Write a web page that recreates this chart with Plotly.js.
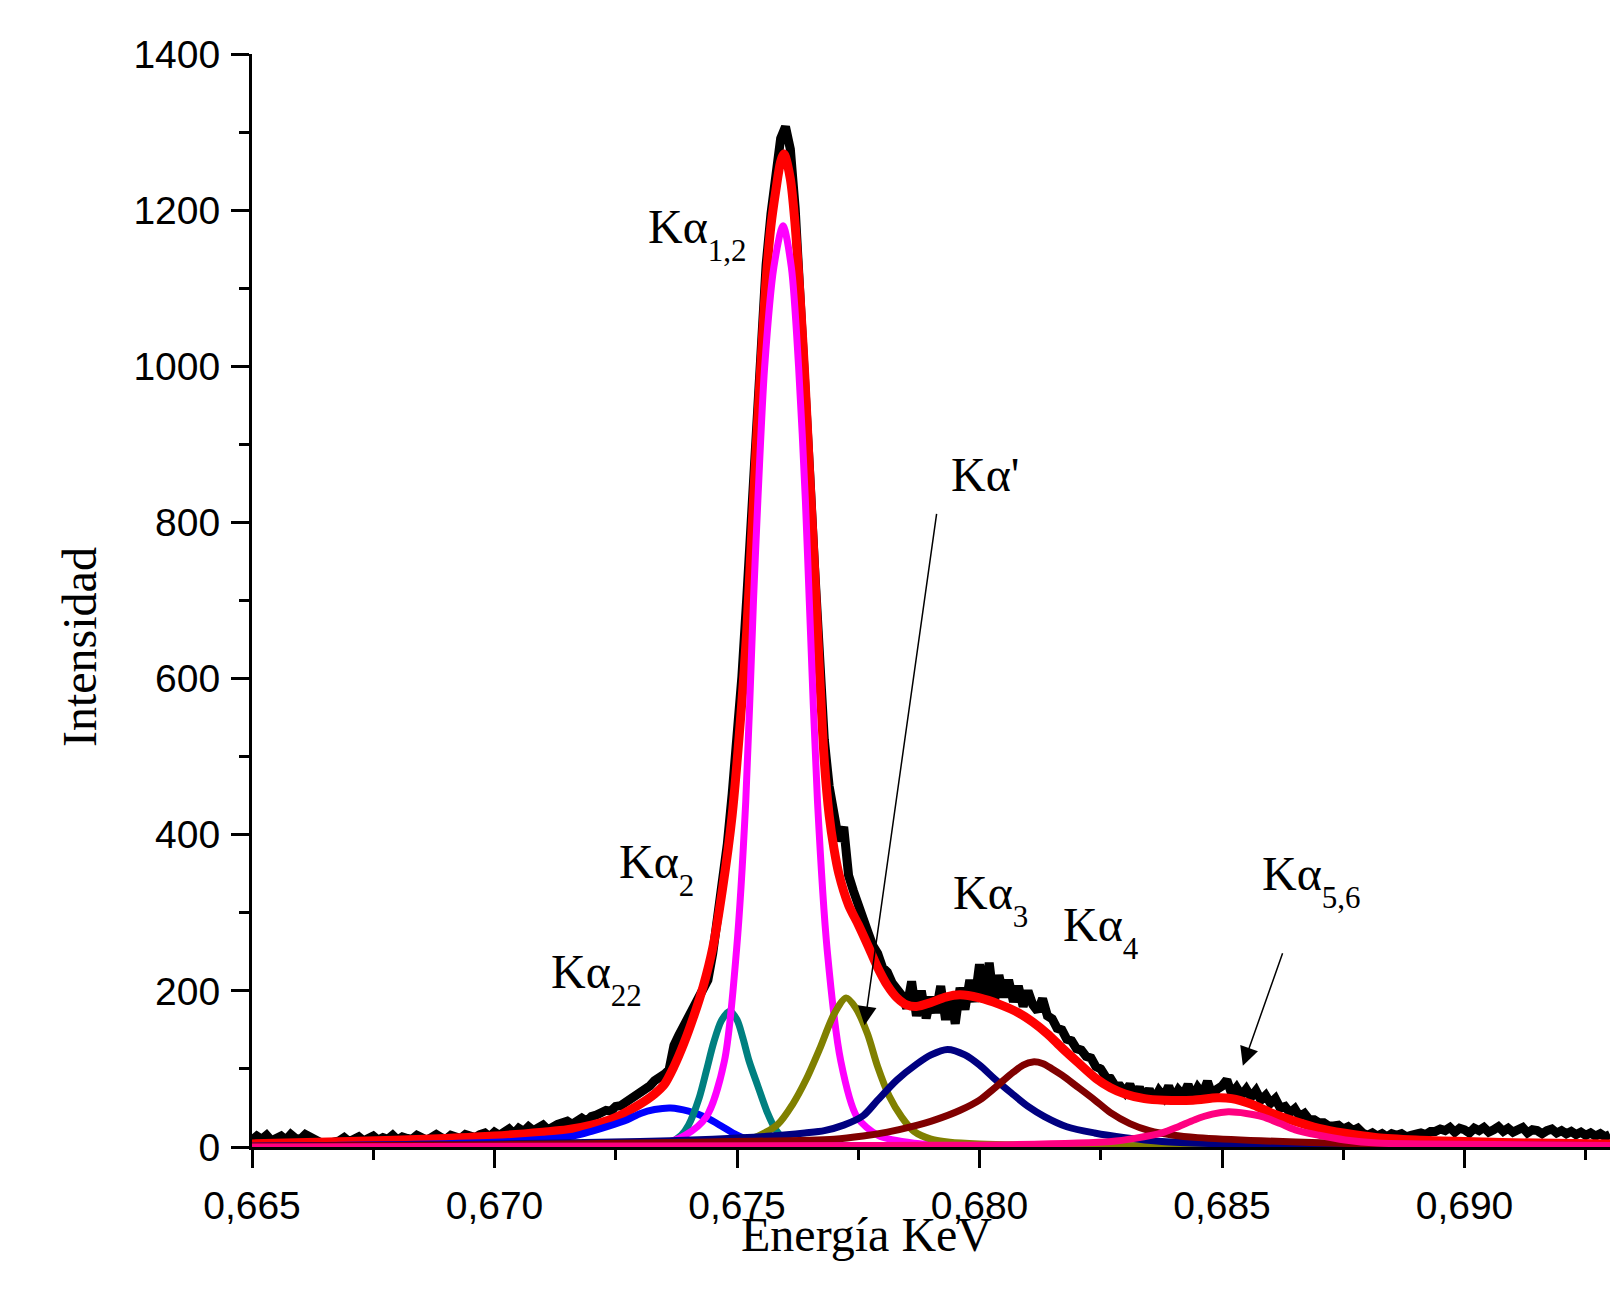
<!DOCTYPE html>
<html>
<head>
<meta charset="utf-8">
<script src="https://cdn.plot.ly/plotly-3.0.1.min.js"></script>
<style>
  html, body { margin: 0; padding: 0; background: #ffffff; }
  #chart { width: 1616px; height: 1294px; }
</style>
</head>
<body>
<div id="chart"></div>
<script>
// ---------- Experimental spectrum (black), sampled every 0.0001 keV from 0.6650 ----------
const dataStartKeV = 0.6650;
const dataStepKeV = 0.0001;
const measuredIntensity = [
  9,14,10,15,8,11,14,9,16,11,10,16,12,9,4,3,5,6,
  8,12,7,10,13,8,11,14,9,12,10,15,9,13,11,10,15,12,9,12,16,12,10,15,12,11,16,13,12,
  16,18,13,19,15,
  20,23,17,24,20,26,21,25,28,22,27,29,
  31,33,29,35,37,33,39,
  41,44,47,46,52,53,57,59,66,70,74,78,85,88,93,
  99,130,143,154,170,180,190,203,214,248,
  292,338,388,452,522,602,702,815,925,1030,1130,1195,1250,1292,1307,
  1278,1202,1102,992,862,742,628,522,462,424,392,410,348,328,308,292,275,258,248,230,224,210,203,194,
  178,212,168,200,165,192,172,206,163,196,158,204,176,214,186,234,190,236,184,220,192,214,186,206,180,200,
  182,174,190,168,164,152,150,138,136,126,124,116,114,103,100,90,88,78,78,
  70,80,66,76,63,74,60,72,64,78,62,73,66,80,64,76,68,84,66,74,78,86,68,76,66,74,64,72,60,66,
  56,62,50,52,44,49,39,43,35,35,31,31,27,27,28,23,26,21,24,
  18,15,18,14,17,13,17,15,17,13,15,18,18,16,20,20,23,
  21,25,19,24,22,18,24,21,25,19,22,26,20,24,19,22,25,18,22,21,17,21,23,18,21,17,20,16,19,15,18,14,17,13,16
];

// ---------- Total fit (red) ----------
const fitEnergy = [0.6650,0.6670,0.6690,0.6700,0.6710,0.6715,0.6720,0.6725,0.6730,0.6733,0.6735,0.6737,0.6739,0.6741,0.6743,0.6745,0.6747,0.6749,0.6751,0.6752,0.6753,0.6754,0.6755,0.6756,0.6757,0.6758,0.6759,0.67597,0.6761,0.6762,0.6763,0.6764,0.6765,0.6766,0.6767,0.6768,0.6769,0.6770,0.6771,0.6773,0.6775,0.6777,0.6779,0.6781,0.6783,0.6785,0.6787,0.6790,0.6793,0.6796,0.6800,0.6804,0.6808,0.6811,0.6814,0.6817,0.6820,0.6824,0.6827,0.6830,0.6834,0.6838,0.6844,0.6849,0.6852,0.6856,0.6860,0.6865,0.6870,0.6875,0.6882,0.6890,0.6900,0.6915,0.6930];
const fitIntensity = [4,7,11,14,19,22,28,38,55,68,80,103,132,166,205,255,330,425,570,660,780,900,1010,1110,1180,1225,1262,1272,1240,1180,1090,985,860,740,610,495,425,382,350,310,285,258,230,207,191,182,180,185,192,195,191,183,172,160,145,127,110,88,76,68,62,60,60,63,62,55,44,33,24,18,12,9,7,5,4];

// ---------- Fitted components ----------
const ka22Energy = [0.6650,0.6680,0.6700,0.6710,0.67163,0.6720,0.67232,0.67274,0.67301,0.67330,0.67363,0.6740,0.67439,0.67470,0.67494,0.6752,0.6757,0.6765,0.6800,0.6930];
const ka22Intensity = [1,3,6,10,14,20,26,35,43,48,50,46,37,26,17,10,4,2,1,0];

const ka2Energy = [0.6650,0.6730,0.6736,0.67385,0.6740,0.67422,0.67437,0.67452,0.67468,0.67485,0.67500,0.67512,0.67525,0.67543,0.67562,0.67580,0.67599,0.6763,0.6770,0.6930];
const ka2Intensity = [0,1,5,15,28,63,98,134,162,174,163,140,110,78,45,22,9,3,1,0];

const ka12Energy = [0.6650,0.6700,0.6720,0.6730,0.67349,0.67393,0.67437,0.67474,0.67499,0.67518,0.67534,0.67543,0.67557,0.67576,0.67595,0.67612,0.67627,0.67641,0.67649,0.67666,0.67686,0.67714,0.67747,0.67791,0.67865,0.6800,0.6830,0.6930];
const ka12Intensity = [0,1,2,3,5,15,39,110,252,442,700,828,999,1127,1180,1127,999,828,700,442,252,110,39,15,5,2,1,0];

const kaPrimeEnergy = [0.6650,0.6720,0.6745,0.67532,0.67584,0.67615,0.67643,0.67670,0.67700,0.67725,0.67745,0.67769,0.67790,0.67814,0.67840,0.67865,0.67900,0.67939,0.6800,0.6820,0.6930];
const kaPrimeIntensity = [0,2,3,11,29,55,87,125,170,191,178,145,103,65,38,20,10,6,4,2,0];

const ka3Energy = [0.6650,0.6700,0.6730,0.6745,0.6757,0.6764,0.6768,0.6772,0.6776,0.6779,0.6783,0.6787,0.6790,0.67934,0.6797,0.6800,0.6803,0.68066,0.6810,0.68134,0.6818,0.68237,0.6830,0.68376,0.6850,0.6870,0.6930];
const ka3Intensity = [1,4,7,10,14,18,21,28,40,60,86,106,118,125,118,105,88,69,52,39,26,18,12,7,4,2,1];

const ka4Energy = [0.6650,0.6700,0.6740,0.6770,0.6776,0.6781,0.6786,0.6791,0.6796,0.6800,0.6803,0.6807,0.6809,0.6811,0.6813,0.6815,0.6817,0.6820,0.68238,0.6827,0.6831,0.6835,0.6840,0.6845,0.6858,0.6880,0.6930];
const ka4Intensity = [1,3,6,10,14,19,26,35,47,60,75,96,105,109,107,100,92,78,60,44,30,21,15,12,8,4,2];

const ka56Energy = [0.6650,0.6780,0.6807,0.68272,0.68320,0.68376,0.68410,0.68444,0.68480,0.68513,0.68550,0.68583,0.68620,0.68651,0.68700,0.68754,0.6882,0.6891,0.6930];
const ka56Intensity = [0,2,3,7,11,18,26,35,42,45,43,39,30,22,15,9,5,4,2];

// ---------- Axis ticks ----------
const xTickValues = [0.665,0.670,0.675,0.680,0.685,0.690];
const xTickLabels = ["0,665","0,670","0,675","0,680","0,685","0,690"];
const yTickValues = [0,200,400,600,800,1000,1200,1400];
const yTickLabels = ["0","200","400","600","800","1000","1200","1400"];

// ---------- Labels (main text + subscript) ----------
const peakLabels = [
  {main: "Kα", sub: "1,2", x: 0.67312, y: 1169},
  {main: "Kα'", sub: "",   x: 0.67938, y: 862},
  {main: "Kα", sub: "2",   x: 0.67253, y: 356},
  {main: "Kα", sub: "22",  x: 0.67113, y: 215},
  {main: "Kα", sub: "3",   x: 0.67942, y: 317},
  {main: "Kα", sub: "4",   x: 0.68167, y: 276},
  {main: "Kα", sub: "5,6", x: 0.68579, y: 341}
];
const arrows = [
  {tipX: 0.67763, tipY: 156, tailX: 0.67912, tailY: 813},
  {tipX: 0.68543, tipY: 104, tailX: 0.68626, tailY: 250}
];

const measuredEnergy = measuredIntensity.map((_, i) => +(dataStartKeV + i * dataStepKeV).toFixed(4));

const serif = "'Times New Roman', 'Liberation Serif', 'DejaVu Serif', serif";
const sans = "Arial, 'Liberation Sans', Helvetica, sans-serif";

function comp(x, y, color) {
  return {x: x, y: y, type: 'scatter', mode: 'lines',
          line: {color: color, width: 7, shape: 'spline', smoothing: 0.8},
          hoverinfo: 'skip', showlegend: false};
}

const traces = [
  {x: measuredEnergy, y: measuredIntensity, type: 'scatter', mode: 'lines',
   line: {color: '#000000', width: 9}, showlegend: false, name: 'Datos'},
  {x: fitEnergy, y: fitIntensity, type: 'scatter', mode: 'lines',
   line: {color: '#FF0000', width: 9, shape: 'spline', smoothing: 0.8}, showlegend: false, name: 'Ajuste'},
  comp(ka22Energy, ka22Intensity, '#0000FF'),
  comp(ka2Energy, ka2Intensity, '#008080'),
  comp(ka12Energy, ka12Intensity, '#FF00FF'),
  comp(kaPrimeEnergy, kaPrimeIntensity, '#808000'),
  comp(ka3Energy, ka3Intensity, '#000080'),
  comp(ka4Energy, ka4Intensity, '#800000'),
  comp(ka56Energy, ka56Intensity, '#FF0080')
];

const annotations = [];
peakLabels.forEach(p => annotations.push({
  text: p.sub ? p.main + '<sub><span style="font-size:31px;baseline-shift:-8px">' + p.sub + '</span></sub>' : p.main,
  x: p.x, y: p.y, xref: 'x', yref: 'y',
  xanchor: 'left', yanchor: 'middle', showarrow: false,
  font: {family: serif, size: 48, color: '#000000'}
}));
arrows.forEach(a => annotations.push({
  text: '', x: a.tipX, y: a.tipY, ax: a.tailX, ay: a.tailY,
  xref: 'x', yref: 'y', axref: 'x', ayref: 'y',
  showarrow: true, arrowhead: 2, arrowsize: 2.5, arrowwidth: 1.5, arrowcolor: '#000000'
}));
annotations.push({
  text: 'Energía KeV', x: 0.67768, y: -0.080, xref: 'x', yref: 'paper',
  xanchor: 'center', yanchor: 'middle', showarrow: false,
  font: {family: serif, size: 48, color: '#000000'}
});
annotations.push({
  text: 'Intensidad', x: -0.127, y: 0.457, xref: 'paper', yref: 'paper',
  xanchor: 'center', yanchor: 'middle', showarrow: false, textangle: -90,
  font: {family: serif, size: 48, color: '#000000'}
});

const layout = {
  width: 1616, height: 1294,
  margin: {l: 252, r: 6, t: 54, b: 147, pad: 0},
  paper_bgcolor: '#ffffff', plot_bgcolor: '#ffffff',
  showlegend: false,
  xaxis: {
    range: [0.665, 0.693], showgrid: false, zeroline: false,
    showline: true, linecolor: '#000000', linewidth: 3,
    ticks: 'outside', ticklen: 18, tickwidth: 3, tickcolor: '#000000',
    tickvals: xTickValues, ticktext: xTickLabels,
    minor: {dtick: 0.0025, ticks: 'outside', ticklen: 10, tickwidth: 3, tickcolor: '#000000', showgrid: false},
    tickfont: {family: sans, size: 39, color: '#000000'},
    ticklabelstandoff: 4
  },
  yaxis: {
    range: [0, 1400], showgrid: false, zeroline: false,
    showline: true, linecolor: '#000000', linewidth: 3,
    ticks: 'outside', ticklen: 18, tickwidth: 3, tickcolor: '#000000',
    tickvals: yTickValues, ticktext: yTickLabels,
    minor: {dtick: 100, ticks: 'outside', ticklen: 10, tickwidth: 3, tickcolor: '#000000', showgrid: false},
    tickfont: {family: sans, size: 39, color: '#000000'},
    ticklabelstandoff: 3
  },
  annotations: annotations
};

Plotly.newPlot('chart', traces, layout, {displayModeBar: false, staticPlot: true});
</script>
</body>
</html>
